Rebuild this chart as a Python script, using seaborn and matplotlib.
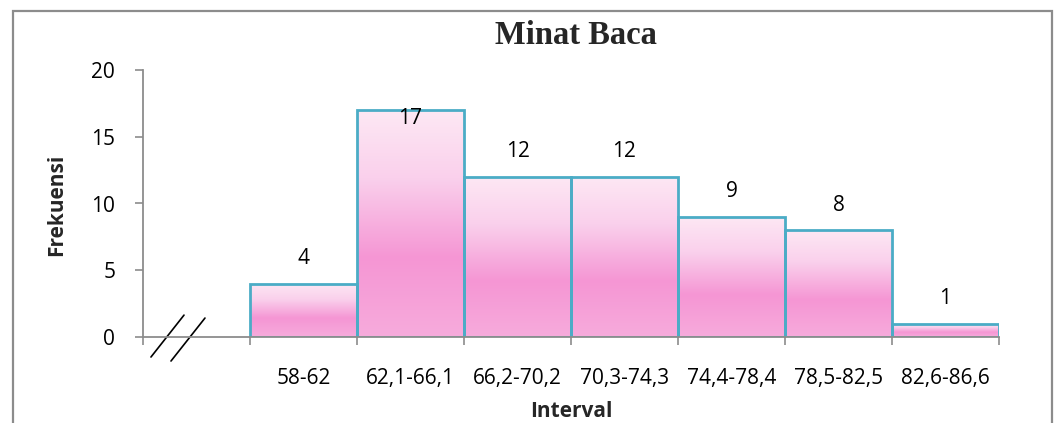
import numpy as np
import matplotlib
matplotlib.use("Agg")
import matplotlib.pyplot as plt
import seaborn as sns
from matplotlib.colors import LinearSegmentedColormap
from matplotlib.lines import Line2D
from matplotlib.patches import Rectangle

# ---- data ----
intervals = ["58-62", "62,1-66,1", "66,2-70,2", "70,3-74,3", "74,4-78,4", "78,5-82,5", "82,6-86,6"]
frekuensi = [4, 17, 12, 12, 9, 8, 1]
title = "Minat Baca"
xlabel = "Interval"
ylabel = "Frekuensi"
yticks = [0, 5, 10, 15, 20]

sns.set_theme(style="white")
plt.rcParams["font.family"] = ["Open Sans", "DejaVu Sans"]

W, H = 1055, 423
fig = plt.figure(figsize=(W / 100, H / 100), dpi=100)
ax = fig.add_axes([143 / W, 1 - 337 / H, 856 / W, 267 / H])

sns.barplot(x=intervals, y=frekuensi, ax=ax, color="#F7A8DC", edgecolor="#4BACC6",
            linewidth=2.0, width=1.0, saturation=1)

# gradient fill for each bar
cmap = LinearSegmentedColormap.from_list(
    "pinkgrad", [(0.0, "#FDE8F4"), (0.3, "#FAD0EC"), (0.65, "#F596D4"), (1.0, "#F7ABDC")])
grad = np.linspace(0, 1, 256).reshape(-1, 1)
for p in ax.patches:
    x0, y0 = p.get_x(), p.get_y()
    w, h = p.get_width(), p.get_height()
    im = ax.imshow(grad, cmap=cmap, aspect="auto", extent=(x0, x0 + w, y0, y0 + h),
                   origin="upper", zorder=1.5)
    im.set_clip_path(p)
    p.set_facecolor("none")
    p.set_zorder(2)
ax.set_xlim(-1.5, len(intervals) - 0.5)
ax.set_ylim(0, 20)

# value labels (placed above the bar, inside when it would hit the title)
for i, v in enumerate(frekuensi):
    yv = v + 1.88 if v + 1.88 < 17.5 else v - 0.6
    ax.text(i, yv, str(v), ha="center", va="center", fontsize=15, color="black", zorder=3)

# spines / ticks
for s in ["top", "right"]:
    ax.spines[s].set_visible(False)
for s in ["left", "bottom"]:
    ax.spines[s].set_color("#8C8C8C")
    ax.spines[s].set_linewidth(1.3)

ax.set_yticks(yticks)
ax.set_yticklabels([str(t) for t in yticks])
ax.tick_params(axis="y", direction="out", length=6, width=1.2, color="#8C8C8C",
               pad=14, labelsize=15, labelcolor="black", left=True)

bounds = np.arange(-1.5, len(intervals), 1.0)
ax.set_xticks(bounds)
ax.set_xticklabels([""] * len(bounds))
ax.set_xticks(np.arange(len(intervals)), minor=True)
ax.set_xticklabels(intervals, minor=True)
ax.tick_params(axis="x", which="major", direction="out", length=6, width=1.2,
               color="#8C8C8C", bottom=True)
ax.tick_params(axis="x", which="minor", length=0, pad=22, labelsize=15, labelcolor="black")

ax.set_xlabel("")
ax.set_ylabel("")
fig.text(571 / W, 1 - 417 / H, xlabel, ha="center", va="baseline", fontsize=15,
         fontweight="bold")
fig.text(57 / W, 1 - 205 / H, ylabel, ha="center", va="center", rotation=90,
         fontsize=15, fontweight="bold")
fig.text(576 / W, 1 - 44 / H, title, ha="center", va="baseline", fontsize=23.5,
         fontweight="bold", family="Liberation Serif")

# break marks on axis
for (xa, ya), (xb, yb) in [((0.0093, -0.075), (0.0479, 0.082)),
                           ((0.0327, -0.090), (0.0724, 0.071))]:
    ax.add_line(Line2D([xa, xb], [ya, yb], transform=ax.transAxes, color="black",
                       lw=1.2, clip_on=False))

# outer chart border
fig.add_artist(Rectangle((13 / W, -0.1), (1052 - 13) / W, 1.1 - 11 / H,
                         transform=fig.transFigure, fill=False, edgecolor="#8C8C8C", lw=1.6))

fig.savefig("out.png", dpi=100)
